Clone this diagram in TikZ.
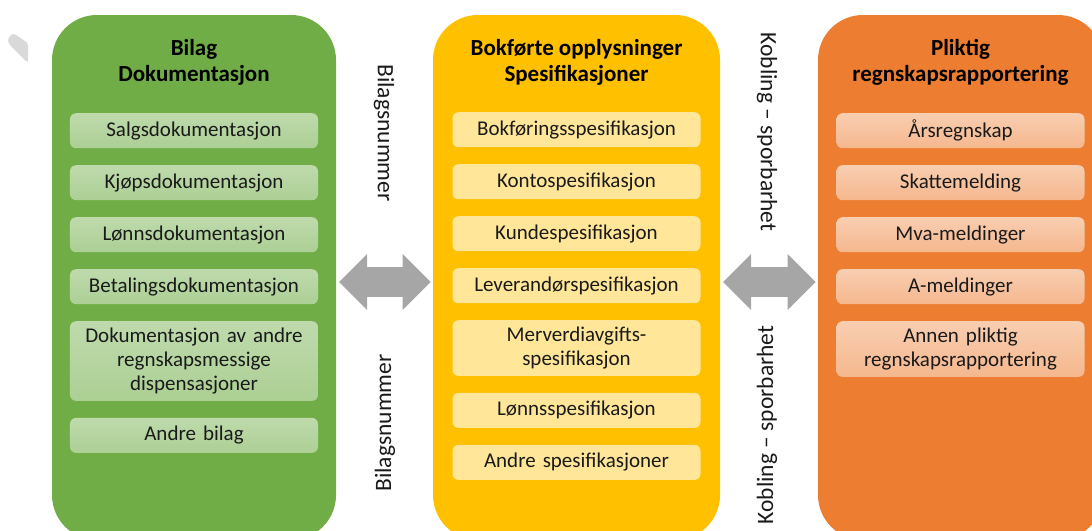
\documentclass[tikz,border=0pt]{standalone}
\usepackage{fontspec}
\setmainfont{Carlito}
\usetikzlibrary{positioning,matrix,arrows.meta}

\definecolor{gronn}{HTML}{70AD47}
\definecolor{gul}{HTML}{FFC000}
\definecolor{oransje}{HTML}{ED7D31}
\definecolor{pilgraa}{HTML}{A6A6A6}
\definecolor{lysgraa}{HTML}{D9D9D9}
\definecolor{tekst}{HTML}{1A1A1A}

\tikzset{
  storboks/.style={rounded corners=45pt, minimum height=525pt, anchor=north, inner sep=0pt, outer sep=0pt},
  tittel/.style={font=\fontsize{23}{26}\selectfont\bfseries, align=center, inner sep=0pt, text=black},
  indreboks/.style={rounded corners=6pt, text width=238pt, minimum height=35pt, inner xsep=5pt, inner ysep=6.75pt,
    align=center, font=\fontsize{21}{24}\selectfont, text=tekst, outer sep=0pt},
  sideord/.style={font=\fontsize{23.5}{28}\selectfont, text=tekst, inner sep=0pt},
  pil/.style={draw=pilgraa, line width=30pt,
    {Triangle[length=28pt, width=56pt, line width=0pt]}-{Triangle[length=28pt, width=56pt, line width=0pt]},
    shorten <=3pt, shorten >=2.5pt},
}

\begin{document}
\begin{tikzpicture}[x=1pt,y=1pt]
  \clip (0,0) rectangle (1092,-530);

  % rest av en figur i hjornet
  \fill[lysgraa, rounded corners=3pt] (13,-33) -- (28,-43) -- (28,-63) -- (8,-43) -- (8,-38) -- cycle;

  % de tre store boksene
  \node (bilag) [storboks, fill=gronn, minimum width=284pt] at (194,-15) {};
  \node (bokf) [storboks, fill=gul, minimum width=287pt] at (576.5,-15) {};
  \node (plikt) [storboks, fill=oransje, minimum width=285pt] at (960.5,-15) {};

  \node [tittel, below=24pt of bilag.north] (tbilag) {Bilag\\Dokumentasjon};
  \node [tittel, below=24pt of bokf.north] (tbokf) {Bokførte opplysninger\\Spesifikasjoner};
  \node [tittel, below=24pt of plikt.north] (tplikt) {Pliktig\\regnskapsrapportering};

  \matrix (lbilag) [matrix of nodes, below=98pt of bilag.north, row sep=17pt, inner sep=0pt,
    nodes={indreboks, top color=gronn!45!white, bottom color=gronn!58!white}]
  {
    Salgsdokumentasjon\\
    Kjøpsdokumentasjon\\
    Lønnsdokumentasjon\\
    Betalingsdokumentasjon\\
    {Dokumentasjon av andre\\regnskapsmessige\\dispensasjoner}\\
    Andre bilag\\
  };

  \matrix (lbokf) [matrix of nodes, below=97pt of bokf.north, row sep=17pt, inner sep=0pt,
    nodes={indreboks, fill=gul!40!white}]
  {
    Bokføringsspesifikasjon\\
    Kontospesifikasjon\\
    Kundespesifikasjon\\
    Leverandørspesifikasjon\\
    {Merverdiavgifts-\\spesifikasjon}\\
    Lønnsspesifikasjon\\
    Andre spesifikasjoner\\
  };

  \matrix (lplikt) [matrix of nodes, below=98pt of plikt.north, row sep=17pt, inner sep=0pt,
    nodes={indreboks, top color=oransje!38!white, bottom color=oransje!55!white}]
  {
    Årsregnskap\\
    Skattemelding\\
    Mva-meldinger\\
    A-meldinger\\
    {Annen pliktig\\regnskapsrapportering}\\
  };

  % piler mellom boksene
  \coordinate (pilhoyde) at (0,-282);
  \draw[pil] (bilag.east |- pilhoyde) -- (bokf.west |- pilhoyde);
  \draw[pil] (bokf.east |- pilhoyde) -- (plikt.west |- pilhoyde);

  \node (bnr1) [sideord, rotate=-90] at (384,-133) {Bilagsnummer};
  \node (bnr2) [sideord, rotate=90] at (385,-423) {Bilagsnummer};
  \node (kob1) [sideord, rotate=-90] at (767,-132) {Kobling – sporbarhet};
  \node (kob2) [sideord, rotate=90] at (767,-425) {Kobling – sporbarhet};
\end{tikzpicture}
\end{document}
